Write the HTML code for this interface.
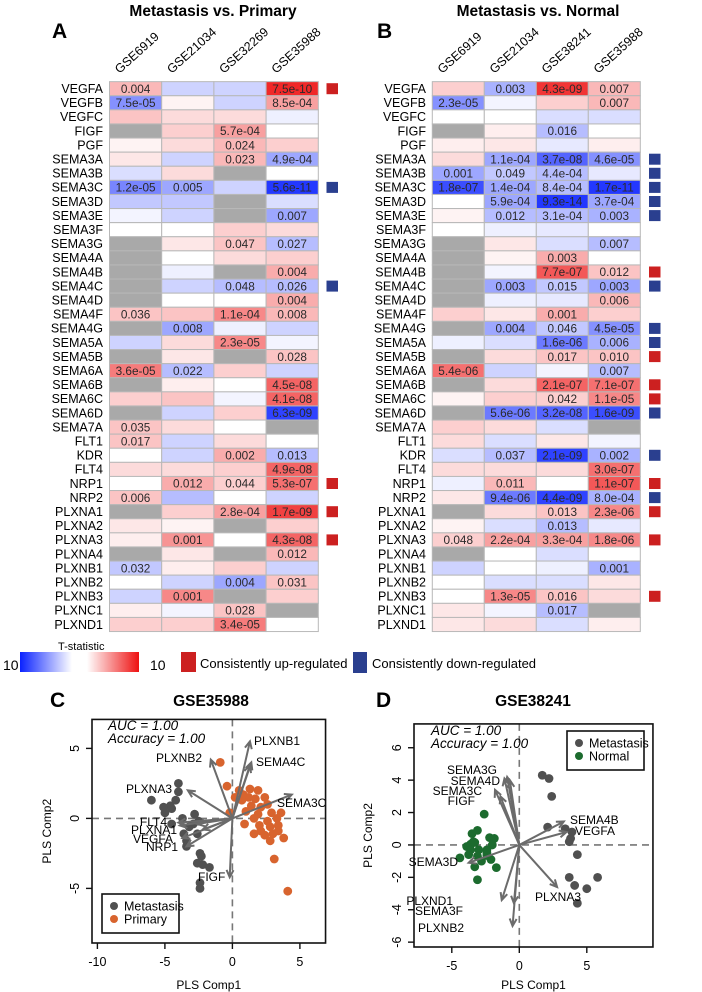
<!DOCTYPE html>
<html><head><meta charset="utf-8">
<style>
html,body{margin:0;padding:0;background:#fff;}
svg{display:block;font-family:"Liberation Sans",Arial,sans-serif;}
</style></head>
<body>
<svg id="fig" width="702" height="992" viewBox="0 0 702 992" xmlns="http://www.w3.org/2000/svg">
<text x="213" y="16" font-size="15.5" font-weight="bold" text-anchor="middle">Metastasis vs. Primary</text>
<text x="52" y="38" font-size="21" font-weight="bold">A</text>
<text x="538" y="16" font-size="15.5" font-weight="bold" text-anchor="middle">Metastasis vs. Normal</text>
<text x="377" y="38" font-size="21" font-weight="bold">B</text>
<g id="heatA"></g>
<g id="heatB"></g>
<g>
  <defs>
    <linearGradient id="gblue" x1="0" x2="1"><stop offset="0" stop-color="#0a22ff"/><stop offset="1" stop-color="#ffffff"/></linearGradient>
    <linearGradient id="gred" x1="0" x2="1"><stop offset="0" stop-color="#ffffff"/><stop offset="1" stop-color="#ee1111"/></linearGradient>
  </defs>
  <text x="58" y="650" font-size="11">T-statistic</text>
  <text x="3" y="670" font-size="14">10</text>
  <rect x="20" y="652" width="52" height="20" fill="url(#gblue)"/>
  <rect x="87" y="652" width="52" height="20" fill="url(#gred)"/>
  <text x="150" y="670" font-size="14">10</text>
  <rect x="181" y="652" width="15" height="20" fill="#cc2020"/>
  <text x="200" y="668" font-size="13">Consistently up-regulated</text>
  <rect x="353" y="652" width="14" height="21" fill="#2a3f8f"/>
  <text x="372" y="668" font-size="13">Consistently down-regulated</text>
</g>
<g id="plotC"></g>
<g id="plotD"></g>
</svg>
<script>
const genes = ["VEGFA","VEGFB","VEGFC","FIGF","PGF","SEMA3A","SEMA3B","SEMA3C","SEMA3D","SEMA3E","SEMA3F","SEMA3G","SEMA4A","SEMA4B","SEMA4C","SEMA4D","SEMA4F","SEMA4G","SEMA5A","SEMA5B","SEMA6A","SEMA6B","SEMA6C","SEMA6D","SEMA7A","FLT1","KDR","FLT4","NRP1","NRP2","PLXNA1","PLXNA2","PLXNA3","PLXNA4","PLXNB1","PLXNB2","PLXNB3","PLXNC1","PLXND1"];
const datasetsA = ["GSE6919","GSE21034","GSE32269","GSE35988"];
const datasetsB = ["GSE6919","GSE21034","GSE38241","GSE35988"];
// T-statistics (null = not available)
const tA = [
[3,-2,-2,9],[-5,0.5,-2,4],[2.5,1.5,1.5,-0.7],[null,2,4,0],[0.5,1.5,3,2],[1,-2,3,-4],[-1.5,1.5,null,0],[-5.5,-4,-2,-9],
[-2.5,-2.5,null,-1.5],[-0.5,-2,null,-4],[0,0,2,1.5],[null,1,2.5,-3],[null,0,1.5,2],[null,-0.7,null,3.5],[null,-2,-3,-3],[null,0,0,3.5],
[2.5,2.5,5,3],[null,-4,-0.7,-2],[-2,1.5,5,-0.5],[null,1,null,2.5],[5.5,-3,2,-2],[null,0.7,0,6.5],[2,2.5,-0.5,6.5],[null,-2,2,-8.5],
[2.5,1.5,0,null],[2.5,-2,1.5,0],[0,-2,3.5,-3],[1.5,1.5,2,6.5],[0,3.5,2,6],[2.5,-3,0,-2],[null,2,4,8],[1,0.5,null,2],
[0.7,4.5,0,6.5],[null,1,null,3],[-2.5,0.7,2,-2],[0,-2,-4,2.5],[-2,5,null,2],[0.7,-0.5,2.5,null],[2,2,5.5,0]];
const pA = [
["0.004","","","7.5e-10"],["7.5e-05","","","8.5e-04"],["","","",""],["","","5.7e-04",""],["","","0.024",""],["","","0.023","4.9e-04"],["","","",""],["1.2e-05","0.005","","5.6e-11"],
["","","",""],["","","","0.007"],["","","",""],["","","0.047","0.027"],["","","",""],["","","","0.004"],["","","0.048","0.026"],["","","","0.004"],
["0.036","","1.1e-04","0.008"],["","0.008","",""],["","","2.3e-05",""],["","","","0.028"],["3.6e-05","0.022","",""],["","","","4.5e-08"],["","","","4.1e-08"],["","","","6.3e-09"],
["0.035","","",""],["0.017","","",""],["","","0.002","0.013"],["","","","4.9e-08"],["","0.012","0.044","5.3e-07"],["0.006","","",""],["","","2.8e-04","1.7e-09"],["","","",""],
["","0.001","","4.3e-08"],["","","","0.012"],["0.032","","",""],["","","0.004","0.031"],["","0.001","",""],["","","0.028",""],["","","3.4e-05",""]];
const tB = [
[2,-3.5,8.5,3],[-5,-0.5,2,3],[0,0,-1.5,-1.5],[null,0.7,-3,0],[0.7,1,-1,0.7],[1.5,-4,-7,-5],[-4,-2.5,-3,-1],[-8,-4,-3,-9],
[0,-4,-9,-4],[0.5,-3,-3,-3.5],[0,-0.7,-1,0],[null,1,-1.5,-3],[null,0.5,3.5,0],[null,-0.5,7,2.5],[null,-4,-2.5,-4],[null,-0.7,-1,3],
[2,1,3.5,2],[null,-4,-2.5,-5],[-0.7,-1.5,-6,-3.5],[null,1.5,2.5,2.5],[6,-2,-0.5,-3],[null,1.5,6.5,6],[0.5,2,2,5],[null,-6,-7,-8],
[2,1.5,-1.5,null],[1.5,-1.5,1,-0.5],[-1.5,-3,-8.5,-3.5],[1.5,1.5,1.5,6],[-0.7,3,0,7],[1,-6,-8.5,-3.5],[null,1.5,2.5,5],[0.5,-1.5,-3,-1],
[2,4,4,5],[null,0,-1.5,0],[-2,0,-0.7,-3.5],[0,-1.5,-1.5,1],[0,5,2.5,1.5],[1,-0.5,-3,null],[1,1.5,-1.5,0.7]];
const pB = [
["","0.003","4.3e-09","0.007"],["2.3e-05","","","0.007"],["","","",""],["","","0.016",""],["","","",""],["","1.1e-04","3.7e-08","4.6e-05"],["0.001","0.049","4.4e-04",""],["1.8e-07","1.4e-04","8.4e-04","1.7e-11"],
["","5.9e-04","9.3e-14","3.7e-04"],["","0.012","3.1e-04","0.003"],["","","",""],["","","","0.007"],["","","0.003",""],["","","7.7e-07","0.012"],["","0.003","0.015","0.003"],["","","","0.006"],
["","","0.001",""],["","0.004","0.046","4.5e-05"],["","","1.6e-06","0.006"],["","","0.017","0.010"],["5.4e-06","","","0.007"],["","","2.1e-07","7.1e-07"],["","","0.042","1.1e-05"],["","5.6e-06","3.2e-08","1.6e-09"],
["","","",""],["","","",""],["","0.037","2.1e-09","0.002"],["","","","3.0e-07"],["","0.011","","1.1e-07"],["","9.4e-06","4.4e-09","8.0e-04"],["","","0.013","2.3e-06"],["","","0.013",""],
["0.048","2.2e-04","3.3e-04","1.8e-06"],["","","",""],["","","","0.001"],["","","",""],["","1.3e-05","0.016",""],["","","0.017",""],["","","",""]];
// consistency flags: 1 up, -1 down
const flagA = {"VEGFA":1,"SEMA3C":-1,"SEMA4C":-1,"NRP1":1,"PLXNA1":1,"PLXNA3":1};
const flagB = {"SEMA3A":-1,"SEMA3B":-1,"SEMA3C":-1,"SEMA3D":-1,"SEMA3E":-1,"SEMA4B":1,"SEMA4C":-1,"SEMA4G":-1,"SEMA5A":-1,"SEMA5B":1,"SEMA6B":1,"SEMA6C":1,"SEMA6D":-1,"KDR":-1,"NRP1":1,"NRP2":-1,"PLXNA1":1,"PLXNA3":1,"PLXNB3":1};

const NS="http://www.w3.org/2000/svg";
function mk(tag,attrs,parent){const e=document.createElementNS(NS,tag);for(const k in attrs)e.setAttribute(k,attrs[k]);parent.appendChild(e);return e;}
function tcolor(v){
  if(v===null) return "#a9a9a9";
  const t=Math.min(Math.abs(v)/10,1);
  const end=v>=0?[238,17,17]:[10,34,255];
  const c=[0,1,2].map(i=>Math.round(255+(end[i]-255)*t));
  return "rgb("+c.join(",")+")";
}
const ROW_H=14.1;
function rowCenter(i){return 88.7+ROW_H*i;}
function rowTop(i){return rowCenter(i)-ROW_H/2;}

function heat(gid,x0,cw,labelX,sqX,ds,tv,pv,flags){
  const g=document.getElementById(gid);
  ds.forEach((d,j)=>{
    const cx=x0+cw*j+10, cy=74;
    const t=mk("text",{x:cx,y:cy,"font-size":12.5,transform:"rotate(-42 "+cx+" "+cy+")"},g);
    
    
    t.textContent=d;
  });
  genes.forEach((gn,i)=>{
    const y0=rowTop(i), yc=rowCenter(i);
    const lab=mk("text",{x:labelX,y:yc+4.3,"font-size":12.5,"text-anchor":"end"},g);
    
    
    lab.textContent=gn;
    for(let j=0;j<4;j++){
      const r=mk("rect",{x:x0+cw*j,y:y0,width:cw,height:ROW_H,fill:tcolor(tv[i][j]),stroke:"#b8b8b8","stroke-width":1},g);
      
      
      if(pv[i][j]){
        const tx=mk("text",{x:x0+cw*j+cw/2,y:yc+4.2,"font-size":11.8,"text-anchor":"middle",fill:"#2a2a2a"},g);
        
        
        tx.textContent=pv[i][j];
      }
    }
    if(flags[gn]){
      const s=mk("rect",{x:sqX,y:yc-5.5,width:11.5,height:11,fill:flags[gn]>0?"#cc2020":"#2a3f8f"},g);
      
      
    }
  });
}
heat("heatA",109.5,52.2,103,326.5,datasetsA,tA,pA,flagA);
heat("heatB",432.3,52,426,649,datasetsB,tB,pB,flagB);

// ---- Scatter data ----
const cMetX=[-4.0,-4.0,-6.0,-4.2,-4.6,-5.1,-5.0,-4.5,-2.8,-3.7,-4.5,-3.2,-3.6,-2.6,-3.4,-3.4,-2.4,-2.3,-2.6,-2.2,-1.7,-2.4,-2.4,-2.9,-2.5];
const cMetY=[2.5,1.9,1.3,1.3,0.9,0.8,0.4,0.7,0.3,0.0,-0.4,-0.6,-1.1,-1.1,-1.6,-2.0,-2.5,-2.7,-3.2,-3.3,-3.5,-4.6,-5.0,-0.4,-0.2];
const cPriX=[-0.9,-0.4,0.5,1.3,1.9,1.2,1.7,2.4,2.6,0.7,1.4,2.1,1.0,1.9,2.9,3.6,-0.2,1.6,2.6,3.3,0.9,2.0,2.8,3.4,1.6,2.4,3.0,3.8,3.4,2.1,3.1,4.1,0.2,0.8,2.8];
const cPriY=[4.0,2.3,2.0,2.1,2.0,1.5,1.4,1.5,1.0,1.3,0.9,0.8,0.5,0.3,0.4,0.4,0.4,0.0,-0.2,0.0,-0.4,-0.5,-0.6,-0.5,-1.1,-1.2,-1.1,-1.4,-0.9,-0.9,-2.9,-5.2,1.5,1.7,-1.6];
const cArrowNames=["PLXNB1","SEMA4C","PLXNB2","PLXNA3","SEMA3C","FLT4","PLXNA1","VEGFA","NRP1","FIGF","","",""];
const cArrowX=[1.3,1.4,-1.6,-3.3,4.4,-4.0,-3.9,-3.7,-3.4,-0.2,1.3,-2.2,-2.6];
const cArrowY=[5.5,4.0,4.2,2.0,1.7,-0.3,-0.5,-1.4,-2.0,-4.2,3.8,-0.8,-0.4];
const cXTicks=[-10,-5,0,5];
const cYTicks=[-5,0,5];

const dMetX=[1.7,2.2,2.4,2.1,3.4,3.9,3.8,3.7,4.3,3.7,4.1,5.0,5.8,4.3];
const dMetY=[4.3,4.1,3.0,1.1,1.0,0.8,0.4,0.2,-0.6,-2.0,-2.5,-2.7,-2.0,-3.6];
const dNorX=[-2.6,-3.1,-3.5,-2.2,-1.85,-3.4,-3.9,-3.6,-3.3,-2.0,-2.4,-3.0,-3.6,-3.1,-2.4,-2.1,-2.8,-4.4,-3.3,-1.7,-3.1,-3.75,-2.4];
const dNorY=[1.9,0.9,0.7,0.45,0.4,0.2,-0.1,0.05,0.15,0.0,-0.3,-0.3,-0.3,-0.7,-0.65,-0.9,-1.0,-0.8,-1.35,-1.4,-2.15,-0.6,-0.5];
const dArrowNames=["SEMA3G","SEMA4D","SEMA3C","FIGF","SEMA4B","VEGFA","SEMA3D","PLXNA3","PLXND1","SEMA3F","PLXNB2",""];
const dArrowX=[-0.9,-0.7,-1.8,-1.4,3.3,3.5,-3.75,2.8,-1.3,-0.4,-0.5,-1.1];
const dArrowY=[4.2,4.0,3.4,3.0,1.45,0.8,-1.1,-2.6,-3.4,-3.6,-5.0,4.1];
const dXTicks=[-5,0,5];
const dYTicks=[-6,-4,-2,0,2,4,6];

function plot(gid,cfg){
  const g=document.getElementById(gid);
  const sx=v=>cfg.x0+(v-cfg.xmin)*cfg.kx;
  const sy=v=>cfg.y0-(v-cfg.ymin)*cfg.ky;
  const L=sx(cfg.xmin), R=sx(cfg.xmax), T=sy(cfg.ymax), B=sy(cfg.ymin);
  let e=mk("text",{x:cfg.titleX,y:706,"font-size":15.5,"font-weight":"bold","text-anchor":"middle"},g);
  e.textContent=cfg.title;
  e=mk("text",{x:cfg.letterX,y:707,"font-size":21,"font-weight":"bold"},g);
  e.textContent=cfg.letter;
  e=mk("line",{x1:L,x2:R,y1:sy(0),y2:sy(0),stroke:"#777","stroke-width":1.6,"stroke-dasharray":"7,5"},g);
  
  e=mk("line",{x1:sx(0),x2:sx(0),y1:T,y2:B,stroke:"#777","stroke-width":1.6,"stroke-dasharray":"7,5"},g);
  
  cfg.series.forEach(s=>{
    s.x.forEach((v,i)=>{
      const c=mk("circle",{cx:sx(v),cy:sy(s.y[i]),r:4.4,fill:s.color},g);
      
      
    });
  });
  const ox=sx(0), oy=sy(0);
  cfg.ax.forEach((v,i)=>{
    const ex=sx(v), ey=sy(cfg.ay[i]);
    const ang=Math.atan2(ey-oy,ex-ox);
    const ah=8, sp=0.45;
    const p=mk("path",{d:"M"+ox+" "+oy+"L"+ex+" "+ey+"M"+(ex-ah*Math.cos(ang-sp))+" "+(ey-ah*Math.sin(ang-sp))+"L"+ex+" "+ey+"L"+(ex-ah*Math.cos(ang+sp))+" "+(ey-ah*Math.sin(ang+sp)),stroke:"#6b6b6b","stroke-width":2,fill:"none"},g);
    
    
  });
  cfg.labels.forEach(l=>{
    const t=mk("text",{x:l[1],y:l[2],"font-size":12,"text-anchor":l[3]},g);
    
    
    t.textContent=l[0];
  });
  e=mk("rect",{x:L,y:T,width:R-L,height:B-T,fill:"none",stroke:"#111","stroke-width":1.6},g);
  
  cfg.xt.forEach(v=>{
    const l=mk("line",{x1:sx(v),x2:sx(v),y1:B,y2:B+6,stroke:"#111","stroke-width":1.4},g);
    
    const t=mk("text",{x:sx(v),y:B+23,"font-size":12.5,"text-anchor":"middle"},g);
    t.textContent=v;
  });
  cfg.yt.forEach(v=>{
    const l=mk("line",{x1:L-6,x2:L,y1:sy(v),y2:sy(v),stroke:"#111","stroke-width":1.4},g);
    
    const tx=L-13, ty=sy(v);
    const t=mk("text",{x:tx,y:ty,"font-size":12.5,"text-anchor":"middle",transform:"rotate(-90 "+tx+" "+ty+")"},g);
    t.textContent=v;
  });
  e=mk("text",{x:(L+R)/2,y:989,"font-size":12,"text-anchor":"middle"},g);
  e.textContent="PLS Comp1";
  const yx=cfg.ytitleX, yy=(T+B)/2;
  e=mk("text",{x:yx,y:yy,"font-size":12,"text-anchor":"middle",transform:"rotate(-90 "+yx+" "+yy+")"},g);
  e.textContent="PLS Comp2";
  e=mk("text",{x:cfg.aucX,y:cfg.aucY,"font-size":13.5,"font-style":"italic"},g);
  e.textContent="AUC = 1.00";
  e=mk("text",{x:cfg.aucX,y:cfg.aucY+13,"font-size":13.5,"font-style":"italic"},g);
  e.textContent="Accuracy = 1.00";
  const lg=cfg.legend;
  e=mk("rect",{x:lg[0],y:lg[1],width:lg[2],height:lg[3],fill:"#fff",stroke:"#111","stroke-width":1.6},g);
  
  cfg.series.forEach((s,k)=>{
    const cy=lg[1]+12+k*13;
    const c=mk("circle",{cx:lg[0]+12,cy:cy,r:4,fill:s.color},g);
    
    const t=mk("text",{x:lg[0]+22,y:cy+4.5,"font-size":12.5},g);
    t.textContent=s.label;
  });
}
plot("plotC",{title:"GSE35988",titleX:211,letter:"C",letterX:50,
  xmin:-10.4,xmax:6.9,ymin:-8.9,ymax:7.07,x0:92,kx:13.5,y0:943,ky:14,
  series:[{name:"metastasis",label:"Metastasis",color:"#505050",x:cMetX,y:cMetY},{name:"primary",label:"Primary",color:"#d8642e",x:cPriX,y:cPriY}],
  ax:cArrowX,ay:cArrowY,an:cArrowNames,
  labels:[["PLXNB1",254,745,"start"],["SEMA4C",256,766,"start"],["PLXNB2",202,762,"end"],["PLXNA3",172,793,"end"],["SEMA3C",277,807,"start"],["FLT4",167,826,"end"],["PLXNA1",177,834,"end"],["VEGFA",173,843,"end"],["NRP1",178,851,"end"],["FIGF",198,881,"start"]],
  xt:cXTicks,yt:cYTicks,ytitleX:51,aucX:108,aucY:730,legend:[102,894,77,39]});
plot("plotD",{title:"GSE38241",titleX:533,letter:"D",letterX:376,
  xmin:-7.8,xmax:9.9,ymin:-6.3,ymax:7.47,x0:414,kx:13.5,y0:947,ky:16.2,
  series:[{name:"metastasis",label:"Metastasis",color:"#505050",x:dMetX,y:dMetY},{name:"normal",label:"Normal",color:"#1c6b2e",x:dNorX,y:dNorY}],
  ax:dArrowX,ay:dArrowY,an:dArrowNames,
  labels:[["SEMA3G",497,774,"end"],["SEMA4D",500,785,"end"],["SEMA3C",482,795,"end"],["FIGF",475,805,"end"],["SEMA4B",570,824,"start"],["VEGFA",575,835,"start"],["SEMA3D",458,866,"end"],["PLXNA3",535,901,"start"],["PLXND1",453,905,"end"],["SEMA3F",463,915,"end"],["PLXNB2",464,932,"end"]],
  xt:dXTicks,yt:dYTicks,ytitleX:372,aucX:431,aucY:735,legend:[567,731,77,39]});
</script>
</body></html>
